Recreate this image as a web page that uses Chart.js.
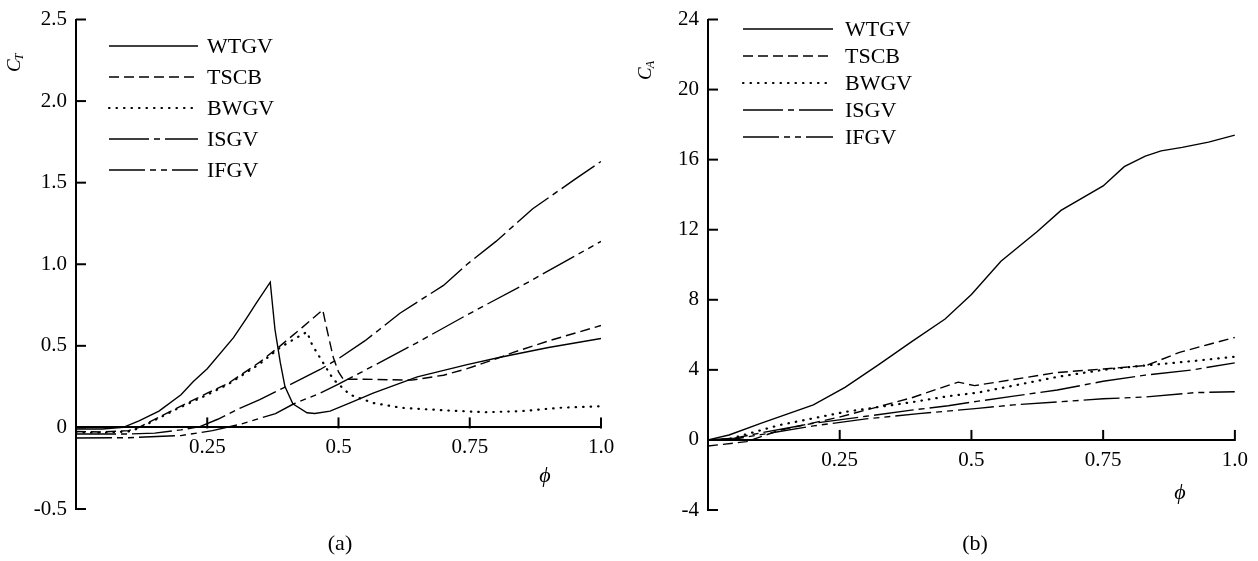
<!DOCTYPE html>
<html>
<head>
<meta charset="utf-8">
<script src="https://cdn.jsdelivr.net/npm/chart.js@4.4.1/dist/chart.umd.min.js"></script>
<style>
  html, body { margin: 0; padding: 0; background: #fff; }
  #wrap { position: relative; width: 1258px; height: 561px; overflow: hidden; }
  .panel { position: absolute; top: 0; width: 629px; height: 561px; }
  #pa { left: 0; }
  #pb { left: 629px; }
</style>
</head>
<body>
<div id="wrap">
  <div class="panel" id="pa"><canvas id="chartA" width="629" height="561"></canvas></div>
  <div class="panel" id="pb"><canvas id="chartB" width="629" height="561"></canvas></div>
</div>
<script>
// Guide-vane configurations
const seriesNames = ['WTGV', 'TSCB', 'BWGV', 'ISGV', 'IFGV'];

// Axis ticks
const phiTicks = [0, 0.25, 0.5, 0.75, 1.0];
const ctTicks = [-0.5, 0, 0.5, 1.0, 1.5, 2.0, 2.5];
const caTicks = [-4, 0, 4, 8, 12, 16, 20, 24];

// (a) torque coefficient C_T versus flow coefficient phi
const phiA_WTGV = [0, 0.05, 0.09, 0.12, 0.158, 0.2, 0.223, 0.25, 0.3, 0.325, 0.344, 0.37, 0.379, 0.389, 0.398, 0.413, 0.44, 0.455, 0.484, 0.522, 0.566, 0.65, 0.745, 0.808, 0.9, 1.0];
const ctA_WTGV  = [-0.01, -0.01, 0, 0.04, 0.10, 0.2, 0.28, 0.36, 0.55, 0.67, 0.765, 0.89, 0.60, 0.40, 0.25, 0.145, 0.09, 0.085, 0.10, 0.15, 0.21, 0.31, 0.385, 0.43, 0.49, 0.545];

const phiA_TSCB = [0, 0.05, 0.1, 0.12, 0.19, 0.25, 0.29, 0.35, 0.389, 0.43, 0.47, 0.478, 0.49, 0.5, 0.509, 0.55, 0.64, 0.7, 0.745, 0.8, 0.833, 0.9, 1.0];
const ctA_TSCB  = [-0.025, -0.028, -0.02, 0, 0.115, 0.21, 0.27, 0.4, 0.5, 0.61, 0.72, 0.6, 0.43, 0.34, 0.295, 0.295, 0.29, 0.32, 0.36, 0.42, 0.46, 0.53, 0.625];

const phiA_BWGV = [0, 0.05, 0.1, 0.12, 0.19, 0.25, 0.29, 0.35, 0.389, 0.42, 0.44, 0.45, 0.47, 0.49, 0.522, 0.566, 0.62, 0.7, 0.78, 0.85, 0.92, 1.0];
const ctA_BWGV  = [-0.03, -0.032, -0.025, -0.005, 0.11, 0.2, 0.265, 0.39, 0.49, 0.55, 0.585, 0.505, 0.4, 0.295, 0.2, 0.15, 0.12, 0.105, 0.093, 0.1, 0.12, 0.13];

const phiA_ISGV = [0, 0.1, 0.15, 0.2, 0.236, 0.27, 0.314, 0.35, 0.4, 0.465, 0.497, 0.55, 0.578, 0.617, 0.7, 0.745, 0.8, 0.87, 0.95, 1.0];
const ctA_ISGV  = [-0.04, -0.04, -0.035, -0.015, 0.005, 0.05, 0.12, 0.17, 0.25, 0.355, 0.415, 0.53, 0.6, 0.7, 0.87, 1.0, 1.14, 1.34, 1.52, 1.63];

const phiA_IFGV = [0, 0.1, 0.2, 0.26, 0.314, 0.38, 0.415, 0.465, 0.5, 0.58, 0.65, 0.745, 0.85, 0.95, 1.0];
const ctA_IFGV  = [-0.065, -0.063, -0.05, -0.02, 0.02, 0.085, 0.145, 0.21, 0.265, 0.4, 0.52, 0.69, 0.87, 1.05, 1.14];

// (b) input coefficient C_A versus flow coefficient phi
const phiB_WTGV = [0, 0.04, 0.1, 0.2, 0.26, 0.324, 0.386, 0.45, 0.5, 0.556, 0.625, 0.67, 0.75, 0.79, 0.83, 0.86, 0.9, 0.95, 1.0];
const caB_WTGV  = [0, 0.28, 0.95, 2.0, 3.0, 4.3, 5.6, 6.9, 8.3, 10.2, 11.9, 13.1, 14.5, 15.6, 16.2, 16.5, 16.7, 17.0, 17.4];

const phiB_TSCB = [0, 0.073, 0.136, 0.249, 0.324, 0.386, 0.44, 0.475, 0.49, 0.506, 0.58, 0.663, 0.751, 0.832, 0.895, 0.95, 1.0];
const caB_TSCB  = [-0.35, -0.1, 0.55, 1.3, 1.9, 2.4, 2.95, 3.3, 3.2, 3.1, 3.45, 3.85, 4.05, 4.25, 5.0, 5.45, 5.85];

const phiB_BWGV = [0, 0.04, 0.136, 0.26, 0.386, 0.456, 0.512, 0.58, 0.663, 0.75, 0.83, 0.92, 1.0];
const caB_BWGV  = [0, 0.05, 0.85, 1.6, 2.15, 2.5, 2.7, 3.1, 3.6, 4.0, 4.25, 4.5, 4.75];

const phiB_ISGV = [0, 0.05, 0.1, 0.2, 0.3, 0.386, 0.456, 0.51, 0.58, 0.663, 0.75, 0.83, 0.92, 1.0];
const caB_ISGV  = [0, 0.1, 0.4, 0.95, 1.35, 1.7, 1.95, 2.2, 2.5, 2.85, 3.35, 3.7, 4.0, 4.4];

const phiB_IFGV = [0, 0.05, 0.1, 0.2, 0.3, 0.4, 0.512, 0.58, 0.75, 0.83, 0.925, 1.0];
const caB_IFGV  = [0, 0.05, 0.3, 0.8, 1.2, 1.5, 1.8, 2.0, 2.35, 2.45, 2.7, 2.75];

// Line styles, one per configuration
const dashes = [[], [10, 5], [0.5, 7], [40, 5, 6, 5], [36, 5, 6, 5, 6, 5]];
const widths = [1.4, 1.4, 2.2, 1.4, 1.4];
const caps = ['butt', 'butt', 'round', 'butt', 'butt'];

const SERIF = '"Liberation Serif", "Times New Roman", serif';

function pairs(xs, ys) {
  return xs.map((x, i) => ({ x: x, y: ys[i] }));
}

function buildDatasets(list) {
  return list.map((d, i) => ({
    label: seriesNames[i],
    data: pairs(d[0], d[1]),
    borderColor: '#000',
    borderWidth: widths[i],
    borderDash: dashes[i],
    borderCapStyle: caps[i],
    pointRadius: 0,
    tension: 0,
    fill: false
  }));
}

// Inward tick marks, legend, symbols and panel caption
const decorPlugin = {
  id: 'decor',
  afterDraw(chart, args, o) {
    const ctx = chart.ctx;
    const xs = chart.scales.x, ys = chart.scales.y;
    const area = chart.chartArea;
    const yZero = ys.getPixelForValue(0);
    ctx.save();
    ctx.strokeStyle = '#000';
    ctx.fillStyle = '#000';
    ctx.lineWidth = 2;
    ctx.setLineDash([]);
    // ticks on the phi axis, pointing up
    xs.ticks.forEach(t => {
      if (t.value === 0) return;
      const px = xs.getPixelForValue(t.value);
      ctx.beginPath(); ctx.moveTo(px, yZero + 1); ctx.lineTo(px, yZero - 10); ctx.stroke();
    });
    // ticks on the vertical axis, pointing right
    ys.ticks.forEach(t => {
      const py = ys.getPixelForValue(t.value);
      ctx.beginPath(); ctx.moveTo(area.left, py); ctx.lineTo(area.left + 10, py); ctx.stroke();
    });

    // legend
    ctx.font = '22px ' + SERIF;
    ctx.textBaseline = 'middle';
    ctx.textAlign = 'left';
    chart.data.datasets.forEach((ds, i) => {
      const ly = o.legendY + i * o.legendGap;
      ctx.lineWidth = ds.borderWidth;
      ctx.lineCap = ds.borderCapStyle || 'butt';
      ctx.setLineDash(ds.borderDash || []);
      ctx.beginPath(); ctx.moveTo(o.legendX1, ly); ctx.lineTo(o.legendX2, ly); ctx.stroke();
      ctx.setLineDash([]);
      ctx.lineCap = 'butt';
      ctx.fillText(ds.label, o.legendTextX, ly + 1);
    });

    // vertical axis symbol with subscript, rotated
    ctx.save();
    ctx.translate(o.symX, o.symY);
    ctx.rotate(-Math.PI / 2);
    ctx.textBaseline = 'alphabetic';
    ctx.font = 'italic 19px ' + SERIF;
    ctx.fillText('C', 0, 0);
    const cw = ctx.measureText('C').width;
    ctx.font = 'italic 12px ' + SERIF;
    ctx.fillText(o.sub, cw - 1, 3);
    ctx.restore();

    // phi label
    ctx.font = 'italic 22px ' + SERIF;
    ctx.textAlign = 'center';
    ctx.textBaseline = 'middle';
    ctx.fillText('\u03D5', o.phiX, o.phiY);

    // panel caption
    ctx.font = '22px ' + SERIF;
    ctx.fillText(o.caption, o.capX, o.capY);
    ctx.restore();
  }
};

function makeChart(canvasId, datasets, yMin, yMax, yStep, yFmt, pad, decor) {
  return new Chart(document.getElementById(canvasId), {
    type: 'line',
    data: { datasets: datasets },
    options: {
      responsive: false,
      animation: false,
      devicePixelRatio: 1,
      layout: { padding: pad },
      plugins: {
        legend: { display: false },
        tooltip: { enabled: false },
        decor: decor
      },
      scales: {
        x: {
          type: 'linear',
          position: { y: 0 },
          min: 0,
          max: 1,
          afterBuildTicks: s => { s.ticks = phiTicks.map(v => ({ value: v })); },
          ticks: {
            color: '#000',
            font: { family: SERIF, size: 21, lineHeight: 1 },
            padding: 10,
            maxRotation: 0,
            autoSkip: false,
            callback: v => (v === 0 ? '' : (v === 1 ? '1.0' : String(v)))
          },
          grid: { display: true, drawOnChartArea: false, drawTicks: false },
          border: { display: true, color: '#000', width: 2 }
        },
        y: {
          type: 'linear',
          position: 'left',
          min: yMin,
          max: yMax,
          afterBuildTicks: s => { s.ticks = yStep.map(v => ({ value: v })); },
          afterFit: s => { s.width = decor.axisLeft; },
          ticks: {
            color: '#000',
            font: { family: SERIF, size: 21, lineHeight: 1 },
            padding: 9,
            autoSkip: false,
            callback: yFmt
          },
          grid: { display: true, drawOnChartArea: false, drawTicks: false },
          border: { display: true, color: '#000', width: 2 }
        }
      }
    },
    plugins: [decorPlugin]
  });
}

makeChart('chartA',
  buildDatasets([
    [phiA_WTGV, ctA_WTGV], [phiA_TSCB, ctA_TSCB], [phiA_BWGV, ctA_BWGV],
    [phiA_ISGV, ctA_ISGV], [phiA_IFGV, ctA_IFGV]
  ]),
  -0.5, 2.5, ctTicks,
  v => (v === 0 ? '0' : v.toFixed(1)),
  { left: 0, top: 18, right: 28, bottom: 52 },
  { axisLeft: 76, legendX1: 109, legendX2: 198, legendTextX: 207, legendY: 46, legendGap: 31,
    symX: 20, symY: 72, sub: 'T', phiX: 545, phiY: 476, caption: '(a)', capX: 340, capY: 544 }
);

makeChart('chartB',
  buildDatasets([
    [phiB_WTGV, caB_WTGV], [phiB_TSCB, caB_TSCB], [phiB_BWGV, caB_BWGV],
    [phiB_ISGV, caB_ISGV], [phiB_IFGV, caB_IFGV]
  ]),
  -4, 24, caTicks,
  v => String(v),
  { left: 0, top: 11, right: 19, bottom: 51 },
  { axisLeft: 79, legendX1: 114, legendX2: 204, legendTextX: 216, legendY: 29, legendGap: 27,
    symX: 22, symY: 80, sub: 'A', phiX: 551, phiY: 493, caption: '(b)', capX: 346, capY: 544 }
);
</script>
</body>
</html>
